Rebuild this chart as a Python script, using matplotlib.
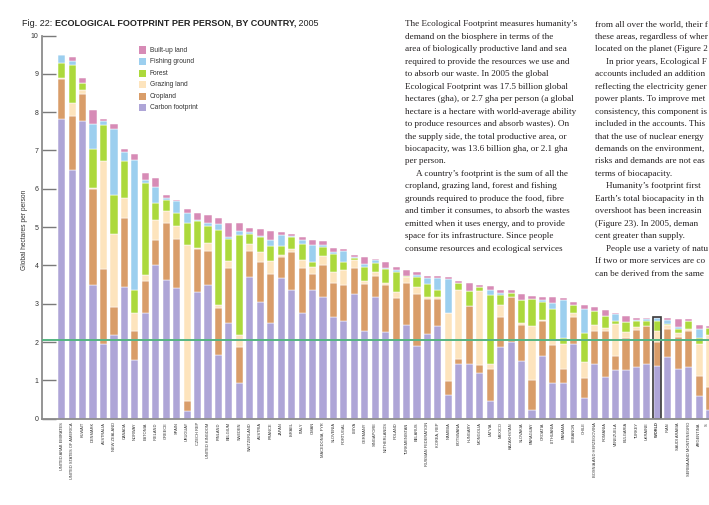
import matplotlib
matplotlib.use("Agg")
import matplotlib.pyplot as plt
from matplotlib.patches import Rectangle

plt.rcParams['font.family'] = ['Liberation Sans', 'DejaVu Sans']

countries = [
    'UNITED ARAB EMIRATES', 'UNITED STATES OF AMERICA', 'KUWAIT', 'DENMARK', 'AUSTRALIA',
    'NEW ZEALAND', 'CANADA', 'NORWAY', 'ESTONIA', 'IRELAND', 'GREECE', 'SPAIN', 'URUGUAY',
    'CZECH REP', 'UNITED KINGDOM', 'FINLAND', 'BELGIUM', 'SWEDEN', 'SWITZERLAND', 'AUSTRIA',
    'FRANCE', 'JAPAN', 'ISRAEL', 'ITALY', 'OMAN', 'MACEDONIA, FYR', 'SLOVENIA', 'PORTUGAL',
    'LIBYA', 'GERMANY', 'SINGAPORE', 'NETHERLANDS', 'POLAND', 'TURKMENISTAN', 'BELARUS',
    'RUSSIAN FEDERATION', 'KOREA, REP', 'NAMIBIA', 'BOTSWANA', 'HUNGARY', 'MONGOLIA', 'LATVIA',
    'MEXICO', 'KAZAKHSTAN', 'SLOVAKIA', 'PARAGUAY', 'CROATIA', 'LITHUANIA', 'PANAMA', 'LEBANON',
    'CHILE', 'BOSNIA AND HERZEGOVINA', 'ROMANIA', 'VENEZUELA', 'BULGARIA', 'TURKEY', 'UKRAINE',
    'WORLD', 'IRAN', 'SAUDI ARABIA', 'SERBIA AND MONTENEGRO', 'ARGENTINA', 'S',
]

carbon = [7.81, 6.50, 7.77, 3.50, 1.95, 2.19, 3.43, 1.53, 2.77, 4.01, 3.62, 3.40, 0.20,
          3.31, 3.49, 1.66, 2.49, 0.92, 3.70, 3.05, 2.49, 3.66, 3.37, 2.75, 3.37, 3.18, 2.66,
          2.55, 3.25, 2.29, 3.17, 2.27, 2.05, 2.44, 1.91, 2.21, 2.43, 0.62, 1.44, 1.44, 1.18,
          0.47, 1.88, 1.99, 1.50, 0.23, 1.64, 0.92, 0.92, 1.96, 0.53, 1.44, 1.10, 1.27, 1.27,
          1.34, 1.43, 1.37, 1.62, 1.29, 1.34, 0.59, 0.23]
cropland = [1.05, 1.40, 0.70, 2.50, 1.95, 0.73, 1.81, 0.77, 0.83, 0.65, 1.49, 1.30, 0.27,
            1.11, 0.88, 1.24, 1.45, 0.96, 0.68, 1.03, 1.28, 0.57, 0.99, 1.19, 0.40, 0.83, 0.87,
            0.94, 0.67, 1.22, 0.56, 1.22, 1.09, 1.09, 1.34, 0.92, 0.69, 0.37, 0.11, 1.49, 0.22,
            0.84, 0.78, 1.19, 0.94, 0.78, 0.91, 1.00, 0.39, 0.70, 0.52, 0.86, 1.20, 0.37, 0.83,
            0.97, 0.99, 0.64, 0.71, 0.83, 0.96, 0.53, 0.61]
grazing = [0.02, 0.34, 0.10, 0.03, 2.82, 1.91, 0.51, 0.45, 0.15, 0.52, 0.32, 0.33, 4.06,
           0.03, 0.22, 0.06, 0.17, 0.30, 0.18, 0.26, 0.34, 0.04, 0.06, 0.20, 0.18, 0.24, 0.29,
           0.39, 0.22, 0.08, 0.09, 0.04, 0.16, 0.18, 0.18, 0.04, 0.05, 1.78, 1.81, 0.02, 1.93,
           0.11, 0.32, 0.00, 0.06, 1.41, 0.03, 0.13, 0.64, 0.09, 0.44, 0.15, 0.06, 0.83, 0.15,
           0.08, 0.00, 0.29, 0.11, 0.12, 0.03, 0.83, 1.34]
forest = [0.39, 0.99, 0.18, 1.00, 0.94, 1.00, 0.98, 0.62, 2.41, 0.46, 0.27, 0.35, 0.57,
          0.71, 0.44, 1.96, 0.59, 2.61, 0.27, 0.39, 0.39, 0.24, 0.31, 0.43, 0.15, 0.24, 0.49,
          0.20, 0.06, 0.38, 0.25, 0.37, 0.53, 0.02, 0.28, 0.34, 0.19, 0.00, 0.17, 0.38, 0.11,
          1.80, 0.24, 0.11, 0.59, 0.70, 0.47, 0.81, 0.16, 0.23, 0.74, 0.37, 0.33, 0.09, 0.28,
          0.15, 0.12, 0.26, 0.04, 0.10, 0.23, 0.16, 0.19]
fishing = [0.22, 0.10, 0.00, 0.67, 0.11, 1.72, 0.23, 3.38, 0.08, 0.40, 0.07, 0.31, 0.26,
           0.03, 0.09, 0.15, 0.03, 0.11, 0.04, 0.03, 0.16, 0.28, 0.04, 0.09, 0.43, 0.03, 0.03,
           0.30, 0.03, 0.06, 0.07, 0.02, 0.05, 0.00, 0.04, 0.15, 0.30, 0.88, 0.00, 0.00, 0.00,
           0.15, 0.06, 0.00, 0.00, 0.00, 0.04, 0.15, 1.00, 0.00, 0.62, 0.00, 0.00, 0.16, 0.00,
           0.03, 0.05, 0.06, 0.09, 0.04, 0.00, 0.22, 0.00]
builtup = [0.00, 0.11, 0.15, 0.35, 0.04, 0.15, 0.09, 0.15, 0.16, 0.24, 0.08, 0.03, 0.10,
           0.18, 0.19, 0.17, 0.39, 0.20, 0.11, 0.20, 0.24, 0.09, 0.06, 0.09, 0.13, 0.11, 0.12,
           0.05, 0.04, 0.18, 0.03, 0.17, 0.07, 0.14, 0.08, 0.07, 0.07, 0.06, 0.07, 0.20, 0.04,
           0.10, 0.07, 0.06, 0.17, 0.08, 0.09, 0.17, 0.05, 0.07, 0.13, 0.09, 0.15, 0.05, 0.16,
           0.07, 0.05, 0.04, 0.07, 0.21, 0.03, 0.11, 0.05]

biocapacity = 2.05
yticks = list(range(0, 11))

layers = [
    ('Carbon footprint', carbon, '#aea5d7'),
    ('Cropland', cropland, '#d99d69'),
    ('Grazing land', grazing, '#fde4bd'),
    ('Forest', forest, '#acd93c'),
    ('Fishing ground', fishing, '#9ccfef'),
    ('Built-up land', builtup, '#d78bb6'),
]

W, H = 709, 505
fig = plt.figure(figsize=(W / 100, H / 100), dpi=100)
ax = fig.add_axes([42 / W, (H - 418.7) / H, (W - 42) / W, (418.7 - 35.5) / H])

x = list(range(len(countries)))
bottom = [0.0] * len(countries)
for name, vals, col in layers:
    ax.bar(x, vals, bottom=bottom, width=0.68, color=col, edgecolor='white', linewidth=0.35)
    bottom = [b + v for b, v in zip(bottom, vals)]

# outline round the world average
wi = countries.index('WORLD')
ax.bar(wi, bottom[wi], width=0.78, fill=False, edgecolor='#3a3a3a', linewidth=1.2)

ax.axhline(biocapacity, color='#55b582', linewidth=1.4, zorder=3)

ax.set_xlim(-1.885, 61.94)
ax.set_ylim(0, 10)
for s in ['top', 'right']:
    ax.spines[s].set_visible(False)
for s in ['left', 'bottom']:
    ax.spines[s].set_color('#8c8c8c')
    ax.spines[s].set_linewidth(1.3)

ax.set_yticks(yticks)
ax.set_yticklabels([str(t) for t in yticks], fontsize=5, color='#333333')
ax.tick_params(axis='y', direction='in', length=10, width=1.0, color='#7a7a7a', pad=2.5)
ax.set_xticks(x[:-1])
ax.set_xticklabels(countries[:-1], rotation=90, fontsize=2.9, color='#333333')
ax.tick_params(axis='x', length=0, pad=2.5)
for lab in ax.get_xticklabels():
    if lab.get_text() == 'WORLD':
        lab.set_fontweight('bold')
# last label sits on the page edge, only its first letter shows
ax.text(x[-1] - 0.25, -4.5 / 383, countries[-1], transform=ax.get_xaxis_transform(),
        rotation=90, ha='center', va='top', fontsize=2.9, color='#333333')

fig.text(25 / W, 1 - 230 / H, 'Global hectares per person', rotation=90, fontsize=4.8,
         color='#333333', ha='center', va='center')

# legend, top first
for i, (name, vals, col) in enumerate(layers[::-1]):
    yc = 50 + 11.55 * i
    fig.patches.append(Rectangle((139 / W, 1 - (yc + 3.5) / H), 7 / W, 7 / H,
                                 transform=fig.transFigure, facecolor=col, edgecolor='none'))
    fig.text(150 / W, 1 - yc / H, name, fontsize=4.8, color='#333333', va='center', ha='left')

# title in three runs
r = fig.canvas.get_renderer()
tx = 22
for part, wt in [('Fig. 22: ', 'normal'), ('ECOLOGICAL FOOTPRINT PER PERSON, BY COUNTRY,', 'bold'),
                 (' 2005', 'normal')]:
    t = fig.text(tx / W, 1 - 25.5 / H, part, fontsize=6.5, fontweight=wt, color='#222222',
                 va='baseline', ha='left')
    tx += t.get_window_extent(renderer=r).width

col1 = [
    "The Ecological Footprint measures humanity\u2019s",
    "demand on the biosphere in terms of the",
    "area of biologically productive land and sea",
    "required to provide the resources we use and",
    "to absorb our waste. In 2005 the global",
    "Ecological Footprint was 17.5 billion global",
    "hectares (gha), or 2.7 gha per person (a global",
    "hectare is a hectare with world-average ability",
    "to produce resources and absorb wastes). On",
    "the supply side, the total productive area, or",
    "biocapacity, was 13.6 billion gha, or 2.1 gha",
    "per person.",
    "\tA country\u2019s footprint is the sum of all the",
    "cropland, grazing land, forest and fishing",
    "grounds required to produce the food, fibre",
    "and timber it consumes, to absorb the wastes",
    "emitted when it uses energy, and to provide",
    "space for its infrastructure. Since people",
    "consume resources and ecological services",
]
# second column runs off the page in the source, so only its visible part is kept
col2 = [
    "from all over the world, their f",
    "these areas, regardless of wher",
    "located on the planet (Figure 2",
    "\tIn prior years, Ecological F",
    "accounts included an addition",
    "reflecting the electricity gener",
    "power plants. To improve met",
    "consistency, this component is",
    "included in the accounts. This",
    "that the use of nuclear energy",
    "demands on the environment,",
    "risks and demands are not eas",
    "terms of biocapacity.",
    "\tHumanity\u2019s footprint first",
    "Earth\u2019s total biocapacity in th",
    "overshoot has been increasin",
    "(Figure 23). In 2005, deman",
    "cent greater than supply.",
    "\tPeople use a variety of natu",
    "If two or more services are co",
    "can be derived from the same",
]
for x0, lines in [(405, col1), (595, col2)]:
    for i, line in enumerate(lines):
        xi = x0
        if line.startswith('\t'):
            line = line[1:]
            xi += 11
        fig.text(xi / W, 1 - (26.5 + 12.45 * i) / H, line, fontsize=6.6,
                 family=['Liberation Serif', 'DejaVu Serif'], color='#231f20',
                 va='baseline', ha='left')

fig.savefig('out.png', dpi=100)
